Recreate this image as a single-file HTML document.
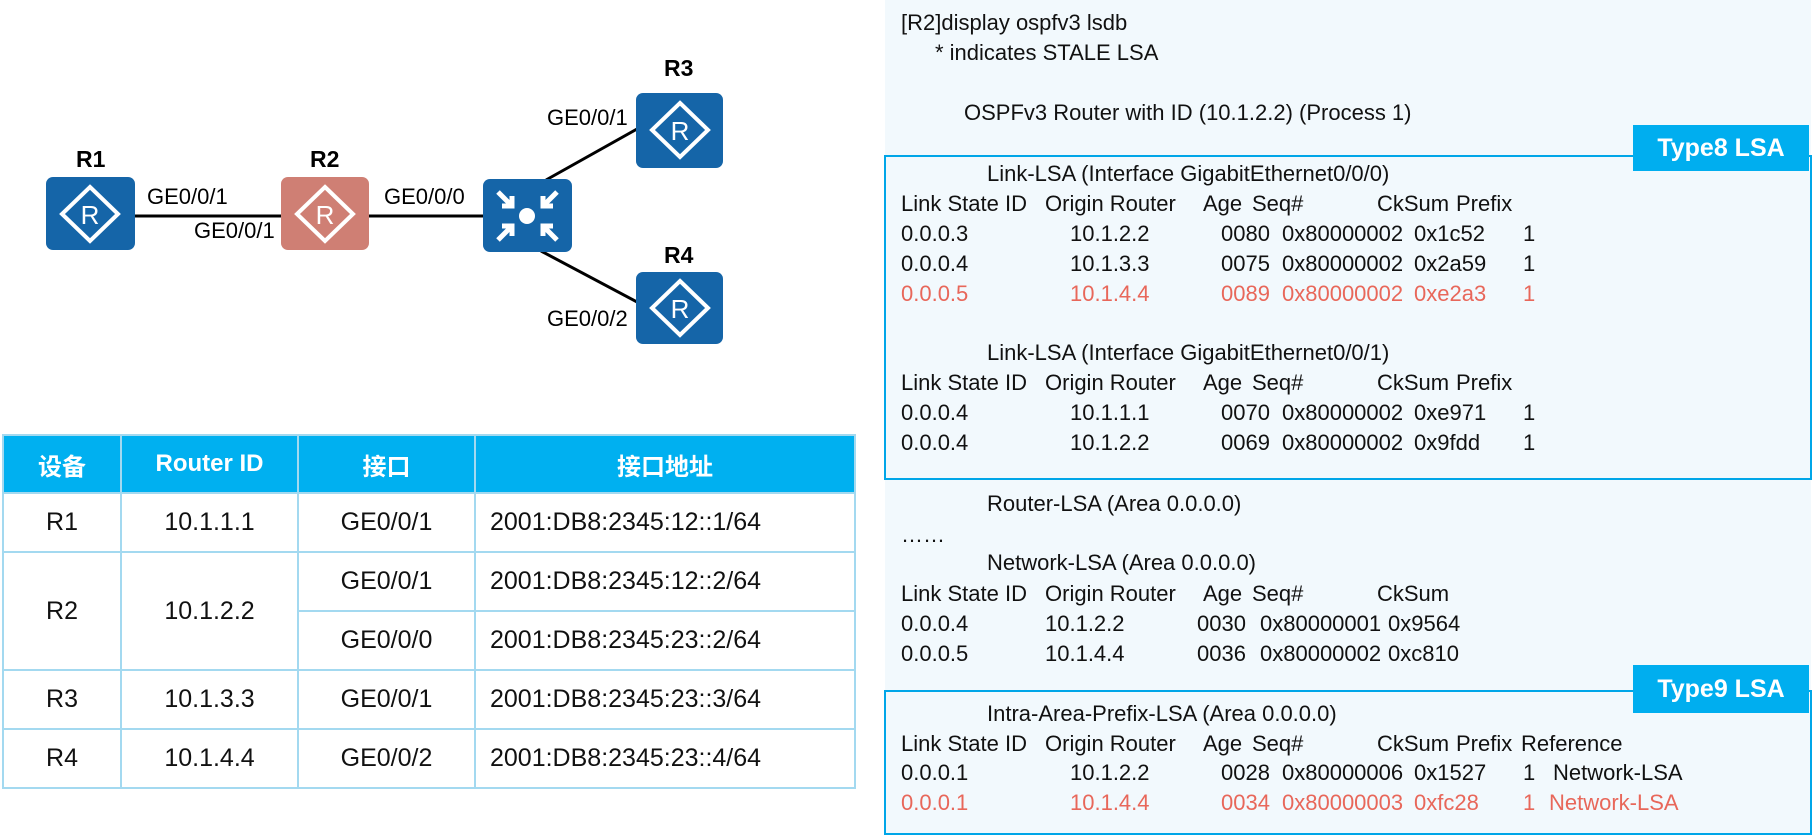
<!DOCTYPE html>
<html><head><meta charset="utf-8"><style>
body{margin:0;width:1815px;height:835px;background:#fff;position:relative;overflow:hidden;font-family:"Liberation Sans","Noto Sans CJK SC",sans-serif;}
.t{position:absolute;font-size:22px;line-height:26px;white-space:nowrap;color:#111;}
.r{color:#e8675a;}
.lbl{position:absolute;font-size:22px;white-space:nowrap;color:#000;}
.nl{position:absolute;font-weight:bold;font-size:23px;}
table{position:absolute;left:2px;top:434px;border-collapse:collapse;width:854px;font-size:25px;}
td,th{border:2px solid #a3d9f0;text-align:center;padding:0;}
th{background:#00b0f0;color:#fff;font-weight:bold;height:56px;font-size:24px;}
td{height:57px;color:#111;}
td.a{text-align:left;padding-left:14px;}
</style></head><body>
<svg style="position:absolute;left:0;top:0" width="880" height="420">
<line x1="135" y1="216" x2="483" y2="216" stroke="#000" stroke-width="3"/>
<line x1="546" y1="180" x2="637" y2="129" stroke="#000" stroke-width="3"/>
<line x1="541" y1="251" x2="637" y2="302" stroke="#000" stroke-width="3"/>
<g fill="#1565a8"><rect x="46" y="177" width="89" height="73" rx="7"/><rect x="483" y="179" width="89" height="73" rx="7"/><rect x="636" y="93" width="87" height="75" rx="7"/><rect x="636" y="272" width="87" height="72" rx="7"/></g>
<rect x="281" y="177" width="88" height="73" rx="7" fill="#cf7f74"/>
<g fill="none" stroke="#fff" stroke-width="4">
<polygon points="90,187 118,214 90,241 62,214"/><polygon points="325,187 353,214 325,241 297,214"/>
<polygon points="680,103 708,130 680,157 652,130"/><polygon points="680,281 708,308 680,335 652,308"/></g>
<g fill="#fff" font-family="Liberation Sans" font-size="26" text-anchor="middle"><text x="90" y="224">R</text><text x="325" y="224">R</text><text x="680" y="140">R</text><text x="680" y="318">R</text></g>
<circle cx="527" cy="216" r="8" fill="#fff"/>
<g stroke="#fff" stroke-width="5" fill="none">
<path d="M498,192 L512,206 M502,206 H512 V196"/><path d="M557,192 L543,206 M553,206 H543 V196"/>
<path d="M498,240 L512,226 M502,226 H512 V236"/><path d="M557,240 L543,226 M553,226 H543 V236"/></g>
</svg>
<div class="nl" style="left:76px;top:146px">R1</div>
<div class="nl" style="left:310px;top:146px">R2</div>
<div class="nl" style="left:664px;top:55px">R3</div>
<div class="nl" style="left:664px;top:242px">R4</div>
<div class="lbl" style="left:147px;top:184px">GE0/0/1</div>
<div class="lbl" style="left:194px;top:218px">GE0/0/1</div>
<div class="lbl" style="left:384px;top:184px">GE0/0/0</div>
<div class="lbl" style="left:547px;top:105px">GE0/0/1</div>
<div class="lbl" style="left:547px;top:306px">GE0/0/2</div>
<table>
<tr><th style="width:116px">设备</th><th style="width:175px">Router ID</th><th style="width:175px">接口</th><th>接口地址</th></tr>
<tr><td>R1</td><td>10.1.1.1</td><td>GE0/0/1</td><td class="a">2001:DB8:2345:12::1/64</td></tr>
<tr><td rowspan="2">R2</td><td rowspan="2">10.1.2.2</td><td>GE0/0/1</td><td class="a">2001:DB8:2345:12::2/64</td></tr>
<tr><td>GE0/0/0</td><td class="a">2001:DB8:2345:23::2/64</td></tr>
<tr><td>R3</td><td>10.1.3.3</td><td>GE0/0/1</td><td class="a">2001:DB8:2345:23::3/64</td></tr>
<tr><td>R4</td><td>10.1.4.4</td><td>GE0/0/2</td><td class="a">2001:DB8:2345:23::4/64</td></tr>
</table>
<div style="position:absolute;left:885px;top:0;width:926px;height:835px;background:#f2f9fd"></div>
<div style="position:absolute;left:884px;top:155px;width:924px;height:321px;border:2px solid #00a6e8"></div>
<div style="position:absolute;left:884px;top:690px;width:924px;height:141px;border:2px solid #00a6e8"></div>
<div style="position:absolute;left:1633px;top:125px;width:176px;height:46px;background:#00aeef;color:#fff;font-weight:bold;font-size:25px;line-height:46px;text-align:center">Type8 LSA</div>
<div style="position:absolute;left:1633px;top:665px;width:176px;height:48px;background:#00aeef;color:#fff;font-weight:bold;font-size:25px;line-height:48px;text-align:center">Type9 LSA</div>

<div class="t" style="left:901px;top:10px">[R2]display ospfv3 lsdb</div>
<div class="t" style="left:935px;top:40px">* indicates STALE LSA</div>
<div class="t" style="left:964px;top:100px">OSPFv3 Router with ID (10.1.2.2) (Process 1)</div>

<div class="t" style="left:987px;top:161px">Link-LSA (Interface GigabitEthernet0/0/0)</div>
<div class="t" style="left:901px;top:191px">Link State ID</div><div class="t" style="left:1045px;top:191px">Origin Router</div><div class="t" style="left:1203px;top:191px">Age</div><div class="t" style="left:1252px;top:191px">Seq#</div><div class="t" style="left:1377px;top:191px">CkSum</div><div class="t" style="left:1456px;top:191px">Prefix</div>
<div class="t" style="left:901px;top:221px">0.0.0.3</div><div class="t" style="left:1070px;top:221px">10.1.2.2</div><div class="t" style="left:1221px;top:221px">0080</div><div class="t" style="left:1282px;top:221px">0x80000002</div><div class="t" style="left:1414px;top:221px">0x1c52</div><div class="t" style="left:1523px;top:221px">1</div>
<div class="t" style="left:901px;top:251px">0.0.0.4</div><div class="t" style="left:1070px;top:251px">10.1.3.3</div><div class="t" style="left:1221px;top:251px">0075</div><div class="t" style="left:1282px;top:251px">0x80000002</div><div class="t" style="left:1414px;top:251px">0x2a59</div><div class="t" style="left:1523px;top:251px">1</div>
<div class="t r" style="left:901px;top:281px">0.0.0.5</div><div class="t r" style="left:1070px;top:281px">10.1.4.4</div><div class="t r" style="left:1221px;top:281px">0089</div><div class="t r" style="left:1282px;top:281px">0x80000002</div><div class="t r" style="left:1414px;top:281px">0xe2a3</div><div class="t r" style="left:1523px;top:281px">1</div>

<div class="t" style="left:987px;top:340px">Link-LSA (Interface GigabitEthernet0/0/1)</div>
<div class="t" style="left:901px;top:370px">Link State ID</div><div class="t" style="left:1045px;top:370px">Origin Router</div><div class="t" style="left:1203px;top:370px">Age</div><div class="t" style="left:1252px;top:370px">Seq#</div><div class="t" style="left:1377px;top:370px">CkSum</div><div class="t" style="left:1456px;top:370px">Prefix</div>
<div class="t" style="left:901px;top:400px">0.0.0.4</div><div class="t" style="left:1070px;top:400px">10.1.1.1</div><div class="t" style="left:1221px;top:400px">0070</div><div class="t" style="left:1282px;top:400px">0x80000002</div><div class="t" style="left:1414px;top:400px">0xe971</div><div class="t" style="left:1523px;top:400px">1</div>
<div class="t" style="left:901px;top:430px">0.0.0.4</div><div class="t" style="left:1070px;top:430px">10.1.2.2</div><div class="t" style="left:1221px;top:430px">0069</div><div class="t" style="left:1282px;top:430px">0x80000002</div><div class="t" style="left:1414px;top:430px">0x9fdd</div><div class="t" style="left:1523px;top:430px">1</div>

<div class="t" style="left:987px;top:491px">Router-LSA (Area 0.0.0.0)</div>
<div class="t" style="left:901px;top:522px">……</div>
<div class="t" style="left:987px;top:550px">Network-LSA (Area 0.0.0.0)</div>
<div class="t" style="left:901px;top:581px">Link State ID</div><div class="t" style="left:1045px;top:581px">Origin Router</div><div class="t" style="left:1203px;top:581px">Age</div><div class="t" style="left:1252px;top:581px">Seq#</div><div class="t" style="left:1377px;top:581px">CkSum</div>
<div class="t" style="left:901px;top:611px">0.0.0.4</div><div class="t" style="left:1045px;top:611px">10.1.2.2</div><div class="t" style="left:1197px;top:611px">0030</div><div class="t" style="left:1260px;top:611px">0x80000001</div><div class="t" style="left:1388px;top:611px">0x9564</div>
<div class="t" style="left:901px;top:641px">0.0.0.5</div><div class="t" style="left:1045px;top:641px">10.1.4.4</div><div class="t" style="left:1197px;top:641px">0036</div><div class="t" style="left:1260px;top:641px">0x80000002</div><div class="t" style="left:1388px;top:641px">0xc810</div>

<div class="t" style="left:987px;top:701px">Intra-Area-Prefix-LSA (Area 0.0.0.0)</div>
<div class="t" style="left:901px;top:731px">Link State ID</div><div class="t" style="left:1045px;top:731px">Origin Router</div><div class="t" style="left:1203px;top:731px">Age</div><div class="t" style="left:1252px;top:731px">Seq#</div><div class="t" style="left:1377px;top:731px">CkSum</div><div class="t" style="left:1456px;top:731px">Prefix</div><div class="t" style="left:1521px;top:731px">Reference</div>
<div class="t" style="left:901px;top:760px">0.0.0.1</div><div class="t" style="left:1070px;top:760px">10.1.2.2</div><div class="t" style="left:1221px;top:760px">0028</div><div class="t" style="left:1282px;top:760px">0x80000006</div><div class="t" style="left:1414px;top:760px">0x1527</div><div class="t" style="left:1523px;top:760px">1</div><div class="t" style="left:1553px;top:760px">Network-LSA</div>
<div class="t r" style="left:901px;top:790px">0.0.0.1</div><div class="t r" style="left:1070px;top:790px">10.1.4.4</div><div class="t r" style="left:1221px;top:790px">0034</div><div class="t r" style="left:1282px;top:790px">0x80000003</div><div class="t r" style="left:1414px;top:790px">0xfc28</div><div class="t r" style="left:1523px;top:790px">1</div><div class="t r" style="left:1549px;top:790px">Network-LSA</div>
</body></html>
